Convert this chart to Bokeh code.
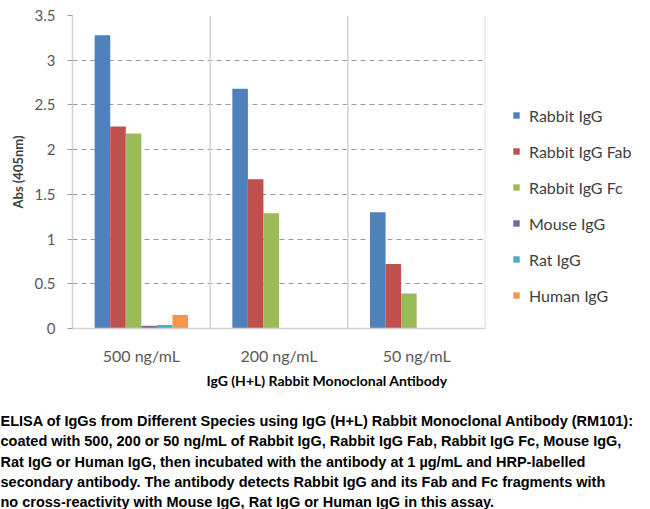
from bokeh.plotting import figure
from bokeh.models import (FactorRange, ColumnDataSource, Legend, LegendItem, Span,
                          FixedTicker, Title)
from bokeh.transform import dodge
from bokeh.embed import file_html
from bokeh.resources import INLINE

concentrations = ["500 ng/mL", "200 ng/mL", "50 ng/mL"]
series_names = ["Rabbit IgG", "Rabbit IgG Fab", "Rabbit IgG Fc", "Mouse IgG", "Rat IgG", "Human IgG"]
rabbit_igg = [3.28, 2.68, 1.30]
rabbit_igg_fab = [2.26, 1.67, 0.72]
rabbit_igg_fc = [2.18, 1.29, 0.39]
mouse_igg = [0.03, 0.0, 0.0]
rat_igg = [0.04, 0.0, 0.0]
human_igg = [0.15, 0.0, 0.0]
colors = ["#4F81BD", "#C0504D", "#9BBB59", "#8064A2", "#4BACC6", "#F79646"]
y_ticks = [0, 0.5, 1, 1.5, 2, 2.5, 3, 3.5]
y_tick_labels = ["0", "0.5", "1", "1.5", "2", "2.5", "3", "3.5"]
x_title = "IgG (H+L) Rabbit Monoclonal Antibody"
y_title = "Abs (405nm)"
caption_lines = [
    "ELISA of IgGs from Different Species using IgG (H+L) Rabbit Monoclonal Antibody (RM101):",
    "coated with 500, 200 or 50 ng/mL of Rabbit IgG, Rabbit IgG Fab, Rabbit IgG Fc, Mouse IgG,",
    "Rat IgG or Human IgG, then incubated with the antibody at 1 \u00b5g/mL and HRP-labelled",
    "secondary antibody. The antibody detects Rabbit IgG and its Fab and Fc fragments with",
    "no cross-reactivity with Mouse IgG, Rat IgG or Human IgG in this assay.",
]

all_series = [rabbit_igg, rabbit_igg_fab, rabbit_igg_fc, mouse_igg, rat_igg, human_igg]
data = {"conc": concentrations}
for i, s in enumerate(all_series):
    data["s%d" % i] = s
source = ColumnDataSource(data)

FONT = "Lato"

p = figure(x_range=FactorRange(factors=concentrations, range_padding=0), y_range=(0, 3.5),
           frame_width=413, frame_height=313, output_backend="svg", toolbar_location=None,
           min_border_left=72, min_border_right=0, min_border_top=15, min_border_bottom=0)
p.outline_line_color = None
p.background_fill_color = "white"

bar_w = 0.113
n = len(all_series)
items = []
for i in range(n):
    off = (i - (n - 1) / 2) * bar_w
    r = p.vbar(x=dodge("conc", off, range=p.x_range), top="s%d" % i, width=bar_w,
               source=source, fill_color=colors[i], line_color=None)
    items.append(LegendItem(label=series_names[i], renderers=[r]))

# separators between groups
for k in range(1, len(concentrations) + 1):
    p.add_layout(Span(location=k, dimension="height", line_color="#D4D4D4", line_width=1.5))

p.xgrid.visible = False
p.ygrid.ticker = FixedTicker(ticks=y_ticks[1:])
p.ygrid.grid_line_color = "#9A9A9A"
p.ygrid.grid_line_dash = "5 4"
p.ygrid.grid_line_width = 1

p.yaxis.ticker = FixedTicker(ticks=y_ticks)
p.yaxis.major_label_overrides = {t: l for t, l in zip(y_ticks, y_tick_labels)}
p.yaxis.minor_tick_line_color = None
p.yaxis.major_tick_out = 5
p.yaxis.major_tick_in = 0
p.yaxis.major_tick_line_color = "#9A9A9A"
p.yaxis.axis_line_color = "#D4D4D4"
p.yaxis.axis_line_width = 1.5
p.yaxis.major_label_text_font = FONT
p.yaxis.major_label_text_font_size = "15px"
p.yaxis.major_label_text_color = "#595959"
p.yaxis.major_label_standoff = 12
p.yaxis.axis_label = y_title
p.yaxis.axis_label_text_font = FONT
p.yaxis.axis_label_text_font_style = "bold"
p.yaxis.axis_label_text_font_size = "13px"
p.yaxis.axis_label_text_color = "#404040"
p.yaxis.axis_label_standoff = 6

p.xaxis.major_tick_line_color = None
p.xaxis.axis_line_color = "#D4D4D4"
p.xaxis.axis_line_width = 1.5
p.xaxis.major_label_text_font = FONT
p.xaxis.major_label_text_font_size = "16px"
p.xaxis.major_label_text_color = "#595959"
p.xaxis.major_label_standoff = 11

legend = Legend(items=items, location=(27, 23), border_line_color=None,
                background_fill_alpha=0, label_text_font=FONT, label_text_font_size="16px",
                label_text_color="#404040", glyph_width=8, glyph_height=8, spacing=16,
                label_height=20, label_standoff=9, padding=0, margin=0)
p.add_layout(legend, "right")

p.add_layout(Title(text=x_title, align="left", text_font_size="14px", text_font_style="bold",
                   text_font=FONT, text_color="black", offset=134, standoff=4), "below")

p.add_layout(Title(text="\n".join(caption_lines), align="left", text_font_size="14.5px",
                   text_font_style="bold", text_font="Liberation Sans", text_color="black",
                   text_line_height=1.28, offset=-72, standoff=40), "below")

open("out.html", "w").write(file_html(p, INLINE))
